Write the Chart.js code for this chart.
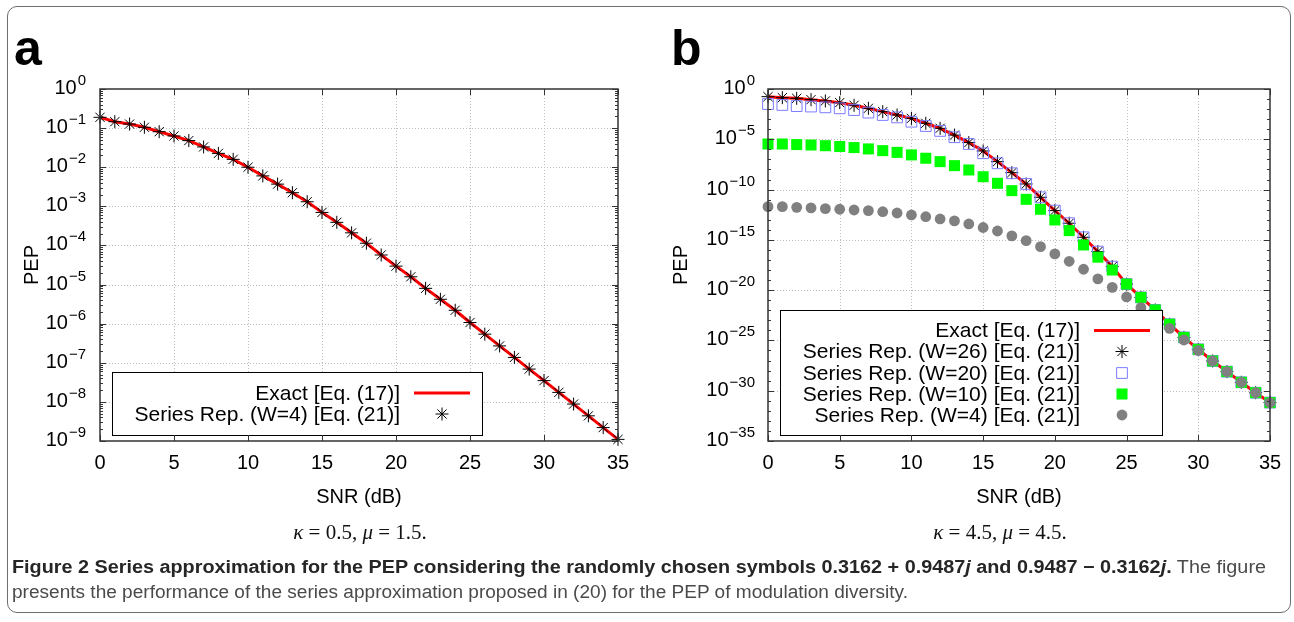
<!DOCTYPE html>
<html>
<head>
<meta charset="utf-8">
<script src="https://cdn.jsdelivr.net/npm/chart.js@4.4.0/dist/chart.umd.min.js"></script>
<style>
    body { margin: 0; background: #fff; width: 1294px; height: 622px; overflow: hidden; position: relative; }
    canvas { position: absolute; left: 0; top: 0; }
    #frame { position: absolute; left: 7px; top: 6px; width: 1282px; height: 605px; border: 1px solid #6e6e6e; border-radius: 10px; }
    .sub { position: absolute; top: 519px; font-family: "Liberation Serif", serif; font-size: 21px; line-height: 26px; white-space: nowrap; transform: translateX(-50%); color: #111; }
    .cap { position: absolute; left: 12px; font-family: "Liberation Sans Narrow", "Liberation Sans", sans-serif; font-size: 18px; line-height: 24px; white-space: nowrap; transform-origin: 0 0; color: #4a4a4a; }
    .cap b { color: #262626; }
</style>
</head>
<body>
<div id="frame"></div>
<canvas id="chartA" width="1294" height="622"></canvas>
<canvas id="chartB" width="1294" height="622"></canvas>
<div class="sub" style="left:360px"><i>κ</i> = 0.5, <i>μ</i> = 1.5.</div>
<div class="sub" style="left:1000px"><i>κ</i> = 4.5, <i>μ</i> = 4.5.</div>
<div class="cap fit" data-w="1254" style="top:555px"><b>Figure 2 Series approximation for the PEP considering the randomly chosen symbols 0.3162 + 0.9487<i>j</i> and 0.9487 − 0.3162<i>j</i>.</b> The figure</div>
<div class="cap fit" data-w="896" style="top:580px">presents the performance of the series approximation proposed in (20) for the PEP of modulation diversity.</div>
<script>
// SNR axis (dB), one point per dB
const snrDb = [0, 1, 2, 3, 4, 5, 6, 7, 8, 9, 10, 11, 12, 13, 14, 15, 16, 17, 18, 19, 20, 21, 22, 23, 24, 25, 26, 27, 28, 29, 30, 31, 32, 33, 34, 35];
const xTicks = [0, 5, 10, 15, 20, 25, 30, 35];
const yExpA = [0, -1, -2, -3, -4, -5, -6, -7, -8, -9];
const yExpB = [0, -5, -10, -15, -20, -25, -30, -35];

// panel a: kappa = 0.5, mu = 1.5
const exactA = [1.89e-1, 1.46e-1, 1.27e-1, 1.05e-1, 8.1e-2, 6.3e-2, 4.8e-2, 3.3e-2, 2.26e-2, 1.59e-2,
    1.0e-2, 6.0e-3, 3.7e-3, 2.23e-3, 1.31e-3, 7.0e-4, 3.9e-4, 2.1e-4, 1.14e-4, 5.7e-5,
    2.96e-5, 1.58e-5, 8.0e-6, 4.2e-6, 2.2e-6, 1.07e-6, 5.4e-7, 2.7e-7, 1.37e-7, 6.9e-8,
    3.5e-8, 1.75e-8, 8.8e-9, 4.4e-9, 2.2e-9, 1.1e-9];
const seriesW4A = [1.89e-1, 1.46e-1, 1.27e-1, 1.05e-1, 8.1e-2, 6.3e-2, 4.8e-2, 3.3e-2, 2.26e-2, 1.59e-2,
    1.0e-2, 6.0e-3, 3.7e-3, 2.23e-3, 1.31e-3, 7.0e-4, 3.9e-4, 2.1e-4, 1.14e-4, 5.7e-5,
    2.96e-5, 1.58e-5, 8.0e-6, 4.2e-6, 2.2e-6, 1.07e-6, 5.4e-7, 2.7e-7, 1.37e-7, 6.9e-8,
    3.5e-8, 1.75e-8, 8.8e-9, 4.4e-9, 2.2e-9, 1.1e-9];

// panel b: kappa = 4.5, mu = 4.5
const exactB = [1.73e-1, 1.37e-1, 1.18e-1, 8.7e-2, 6.5e-2, 4.4e-2, 2.4e-2, 1.2e-2, 5.6e-3, 2.6e-3,
    1.2e-3, 3.9e-4, 1.23e-4, 2.6e-5, 4.7e-6, 6.9e-7, 6.0e-8, 4.8e-9, 3.6e-10, 1.7e-11,
    8.1e-13, 4.5e-14, 1.8e-15, 6.8e-17, 2.2e-18, 4.0e-20, 1.9e-21, 1.07e-22, 4.1e-24, 2.0e-25,
    1.3e-26, 9.1e-28, 7.9e-29, 6.9e-30, 6.3e-31, 6.6e-32];
const seriesW26B = [1.73e-1, 1.37e-1, 1.18e-1, 8.7e-2, 6.5e-2, 4.4e-2, 2.4e-2, 1.2e-2, 5.6e-3, 2.6e-3,
    1.2e-3, 3.9e-4, 1.23e-4, 2.6e-5, 4.7e-6, 6.9e-7, 6.0e-8, 4.8e-9, 3.6e-10, 1.7e-11,
    8.1e-13, 4.5e-14, 1.8e-15, 6.8e-17, 2.2e-18, 4.0e-20, 1.9e-21, 1.07e-22, 4.1e-24, 2.0e-25,
    1.3e-26, 9.1e-28, 7.9e-29, 6.9e-30, 6.3e-31, 6.6e-32];
const seriesW20B = [3.2e-2, 2.6e-2, 2.0e-2, 1.8e-2, 1.5e-2, 1.2e-2, 8.1e-3, 4.5e-3, 2.6e-3, 1.5e-3,
    5.6e-4, 2.1e-4, 6.8e-5, 1.6e-5, 3.4e-6, 4.1e-7, 4.1e-8, 4.2e-9, 3.6e-10, 1.7e-11,
    8.1e-13, 4.5e-14, 1.8e-15, 6.8e-17, 2.2e-18, 4.0e-20, 1.9e-21, 1.07e-22, 4.1e-24, 2.0e-25,
    1.3e-26, 9.1e-28, 7.9e-29, 6.9e-30, 6.3e-31, 6.6e-32];
const seriesW10B = [3.4e-6, 3.4e-6, 3.0e-6, 2.7e-6, 2.3e-6, 1.9e-6, 1.5e-6, 1.1e-6, 7.4e-7, 5.0e-7,
    2.8e-7, 1.3e-7, 6.0e-8, 2.4e-8, 8.9e-9, 1.9e-9, 4.2e-10, 7.8e-11, 1.07e-11, 1.1e-12,
    9.5e-14, 8.3e-15, 3.1e-16, 1.9e-17, 1.0e-18, 4.0e-20, 1.9e-21, 1.07e-22, 4.1e-24, 2.0e-25,
    1.3e-26, 9.1e-28, 7.9e-29, 6.9e-30, 6.3e-31, 6.6e-32];
const seriesW4B = [2.0e-12, 2.0e-12, 1.7e-12, 1.5e-12, 1.26e-12, 1.1e-12, 9.3e-13, 8.1e-13, 6.3e-13, 4.7e-13,
    3.0e-13, 2.0e-13, 1.2e-13, 7.6e-14, 3.8e-14, 1.7e-14, 7.6e-15, 2.5e-15, 8.3e-16, 2.1e-16,
    4.0e-17, 7.4e-18, 1.2e-18, 1.3e-19, 1.9e-20, 2.1e-21, 1.8e-22, 1.6e-23, 1.6e-24, 1.1e-25,
    1.0e-26, 9.1e-28, 7.9e-29, 6.9e-30, 6.3e-31, 6.6e-32];

const W = 1294, H = 622;
const FONT = '"Liberation Sans", Arial, sans-serif';

function toPoints(values) {
    return snrDb.map((x, i) => ({ x: x, y: values[i] }));
}

function drawMarker(ctx, ds, x, y) {
    const r = ds.pointRadius;
    ctx.save();
    ctx.lineWidth = ds.borderWidth;
    ctx.strokeStyle = ds.borderColor;
    ctx.fillStyle = ds.backgroundColor;
    ctx.beginPath();
    if (ds.pointStyle === 'star') {
        const d = r * Math.SQRT1_2;
        ctx.moveTo(x - r, y); ctx.lineTo(x + r, y);
        ctx.moveTo(x, y - r); ctx.lineTo(x, y + r);
        ctx.moveTo(x - d, y - d); ctx.lineTo(x + d, y + d);
        ctx.moveTo(x - d, y + d); ctx.lineTo(x + d, y - d);
        ctx.stroke();
    } else if (ds.pointStyle === 'rect') {
        const s = r * Math.SQRT1_2;
        ctx.rect(x - s, y - s, 2 * s, 2 * s);
        ctx.fill();
        if (ds.borderWidth > 0) ctx.stroke();
    } else {
        ctx.arc(x, y, r, 0, Math.PI * 2);
        ctx.fill();
    }
    ctx.restore();
}

function drawPow(ctx, exp, xRight, yMid) {
    const expStr = exp === 0 ? '0' : '\u2212' + Math.abs(exp);
    ctx.textAlign = 'right';
    ctx.textBaseline = 'alphabetic';
    ctx.font = '15px ' + FONT;
    const ew = ctx.measureText(expStr).width;
    ctx.fillText(expStr, xRight, yMid - 4);
    ctx.font = '20px ' + FONT;
    ctx.fillText('10', xRight - ew - 1, yMid + 5);
}

// gnuplot-like frame: dotted grid, inward ticks, superscript labels, boxed key
const gnuplotLook = {
    id: 'gnuplotLook',
    beforeDatasetsDraw(chart, args, o) {
        const { ctx, chartArea: a, scales: { x, y } } = chart;
        ctx.save();
        ctx.strokeStyle = '#bdbdbd';
        ctx.lineWidth = 1;
        ctx.setLineDash([1, 2]);
        ctx.beginPath();
        xTicks.forEach(v => {
            if (v <= x.min || v >= x.max) return;
            const px = Math.round(x.getPixelForValue(v)) + 0.5;
            ctx.moveTo(px, a.top); ctx.lineTo(px, a.bottom);
        });
        o.yExp.forEach(e => {
            const py = Math.round(y.getPixelForValue(Math.pow(10, e))) + 0.5;
            if (py <= a.top + 1 || py >= a.bottom - 1) return;
            ctx.moveTo(a.left, py); ctx.lineTo(a.right, py);
        });
        ctx.stroke();
        ctx.restore();
    },
    afterDatasetsDraw(chart, args, o) {
        const { ctx, chartArea: a, scales: { x, y } } = chart;
        const k = o.key;
        ctx.save();

        // key
        ctx.fillStyle = '#fff';
        ctx.fillRect(k.box[0], k.box[1], k.box[2] - k.box[0], k.box[3] - k.box[1]);
        ctx.strokeStyle = '#000';
        ctx.lineWidth = 1;
        ctx.strokeRect(k.box[0] + 0.5, k.box[1] + 0.5, k.box[2] - k.box[0], k.box[3] - k.box[1]);
        ctx.font = '21px ' + FONT;
        ctx.textAlign = 'right';
        ctx.textBaseline = 'middle';
        chart.data.datasets.forEach((ds, i) => {
            const ry = k.rows[i];
            ctx.fillStyle = '#000';
            ctx.fillText(ds.label, k.textRight, ry + 1);
            if (ds.showLine) {
                ctx.strokeStyle = ds.borderColor;
                ctx.lineWidth = ds.borderWidth;
                ctx.beginPath();
                ctx.moveTo(k.lineX[0], ry); ctx.lineTo(k.lineX[1], ry);
                ctx.stroke();
            } else {
                drawMarker(ctx, ds, (k.lineX[0] + k.lineX[1]) / 2, ry);
            }
        });

        // border
        ctx.strokeStyle = '#333';
        ctx.lineWidth = 1.5;
        ctx.strokeRect(a.left, a.top, a.right - a.left, a.bottom - a.top);

        // ticks
        ctx.lineWidth = 1;
        ctx.beginPath();
        xTicks.forEach(v => {
            const px = Math.round(x.getPixelForValue(v)) + 0.5;
            ctx.moveTo(px, a.bottom); ctx.lineTo(px, a.bottom - 6);
            ctx.moveTo(px, a.top); ctx.lineTo(px, a.top + 6);
        });
        o.yExp.forEach(e => {
            const py = Math.round(y.getPixelForValue(Math.pow(10, e))) + 0.5;
            ctx.moveTo(a.left, py); ctx.lineTo(a.left + 6, py);
            ctx.moveTo(a.right, py); ctx.lineTo(a.right - 6, py);
        });
        o.yMinor.forEach(v => {
            const py = Math.round(y.getPixelForValue(v)) + 0.5;
            ctx.moveTo(a.left, py); ctx.lineTo(a.left + 3, py);
            ctx.moveTo(a.right, py); ctx.lineTo(a.right - 3, py);
        });
        ctx.stroke();

        // tick labels
        ctx.fillStyle = '#000';
        ctx.font = '20px ' + FONT;
        ctx.textAlign = 'center';
        ctx.textBaseline = 'alphabetic';
        xTicks.forEach(v => ctx.fillText(String(v), x.getPixelForValue(v), a.bottom + 28));
        o.yExp.forEach(e => drawPow(ctx, e, a.left - o.labelGap, y.getPixelForValue(Math.pow(10, e))));

        // axis titles
        ctx.font = '20px ' + FONT;
        ctx.textAlign = 'center';
        ctx.textBaseline = 'middle';
        ctx.fillText('SNR (dB)', (a.left + a.right) / 2, a.bottom + 56);
        ctx.save();
        ctx.translate(o.pepX, (a.top + a.bottom) / 2);
        ctx.rotate(-Math.PI / 2);
        ctx.fillText('PEP', 0, 0);
        ctx.restore();

        // panel letter
        ctx.font = 'bold 50px ' + FONT;
        ctx.textAlign = 'left';
        ctx.textBaseline = 'alphabetic';
        ctx.fillText(o.tag, o.tagX, 65);
        ctx.restore();
    }
};

function makeChart(canvasId, area, yMin, datasets, look) {
    const ctx = document.getElementById(canvasId).getContext('2d');
    return new Chart(ctx, {
        type: 'line',
        data: { datasets: datasets },
        options: {
            responsive: false,
            animation: false,
            devicePixelRatio: 1,
            layout: { padding: { left: area.left, top: area.top, right: W - area.right, bottom: H - area.bottom } },
            scales: {
                x: { type: 'linear', min: 0, max: 35, display: false },
                y: { type: 'logarithmic', min: yMin, max: 1, display: false }
            },
            plugins: {
                legend: { display: false },
                tooltip: { enabled: false },
                gnuplotLook: look
            }
        },
        plugins: [gnuplotLook]
    });
}

function exactSet(values, width) {
    return { label: 'Exact [Eq. (17)]', data: toPoints(values), showLine: true, borderColor: '#ff0000', backgroundColor: '#ff0000',
        borderWidth: width, pointRadius: 0, tension: 0, clip: false, order: 10 };
}
function markerSet(label, values, style, radius, stroke, fill, bw, order) {
    return { label: label, data: toPoints(values), showLine: false, pointStyle: style, pointRadius: radius,
        borderColor: stroke, backgroundColor: fill, borderWidth: bw, pointBorderWidth: bw, clip: false, order: order };
}

// minor log ticks
const minorA = [];
for (let e = -9; e < 0; e++) for (let m = 2; m <= 9; m++) minorA.push(m * Math.pow(10, e));
const minorB = [];
for (let e = -35; e < 0; e++) if (e % 5 !== 0) minorB.push(Math.pow(10, e));

makeChart('chartA', { left: 100, top: 89, right: 618, bottom: 441 }, 1e-9, [
    exactSet(exactA, 3),
    markerSet('Series Rep. (W=4) [Eq. (21)]', seriesW4A, 'star', 6.5, '#000', 'rgba(0,0,0,0)', 1, 1)
], {
    yExp: yExpA, yMinor: minorA, labelGap: 14, pepX: 32, tag: 'a', tagX: 14,
    key: { box: [112, 372, 482, 435], rows: [393, 414], textRight: 400, lineX: [414, 470] }
});

makeChart('chartB', { left: 768, top: 89, right: 1270, bottom: 441 }, 1e-35, [
    exactSet(exactB, 3),
    markerSet('Series Rep. (W=26) [Eq. (21)]', seriesW26B, 'star', 6.5, '#000', 'rgba(0,0,0,0)', 1, 4),
    markerSet('Series Rep. (W=20) [Eq. (21)]', seriesW20B, 'rect', 7.6, '#7b7bff', 'rgba(0,0,0,0)', 1, 3),
    markerSet('Series Rep. (W=10) [Eq. (21)]', seriesW10B, 'rect', 7.8, '#00ee00', '#00ff00', 0, 2),
    markerSet('Series Rep. (W=4) [Eq. (21)]', seriesW4B, 'circle', 5.4, '#808080', '#808080', 0, 1)
], {
    yExp: yExpB, yMinor: minorB, labelGap: 13, pepX: 681, tag: 'b', tagX: 671,
    key: { box: [780, 310, 1162, 435], rows: [330.5, 351.5, 373, 394, 415], textRight: 1080, lineX: [1094, 1150] }
});

document.querySelectorAll('.fit').forEach(el => {
    const w = el.getBoundingClientRect().width;
    el.style.transform = 'scaleX(' + (el.dataset.w / w) + ')';
});
</script>
</body>
</html>
